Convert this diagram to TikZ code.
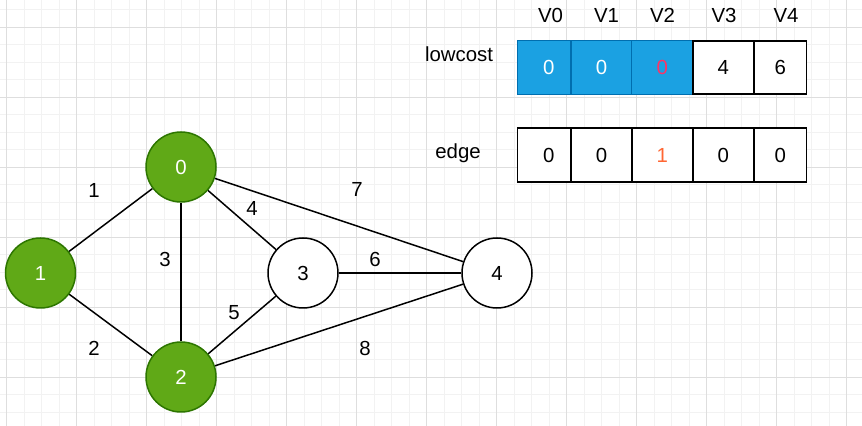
\documentclass[tikz,border=0pt]{standalone}
\usepackage{fontspec}
\setmainfont{Liberation Sans}
\usepackage{tikz}
\definecolor{GreenFill}{HTML}{60A917}
\definecolor{GreenLine}{HTML}{2D7600}
\definecolor{BlueFill}{HTML}{1BA1E2}
\definecolor{BlueLine}{HTML}{006EAF}
\definecolor{PinkText}{HTML}{FF3366}
\definecolor{OrangeText}{HTML}{FF6633}
\definecolor{MinorGrid}{HTML}{F2F2F2}
\definecolor{MajorGrid}{HTML}{DEDEDE}
\pgfdeclarelayer{gridlayer}
\pgfdeclarelayer{edgelayer}
\pgfdeclarelayer{nodelayer}
\pgfsetlayers{gridlayer,edgelayer,nodelayer,main}
\tikzstyle{none}=[inner sep=0pt]
\tikzstyle{gn}=[circle,fill=GreenFill,draw=GreenLine,text=white,line width=0.85pt,minimum size=1.4cm]
\tikzstyle{wn}=[circle,fill=white,draw=black,line width=0.85pt,minimum size=1.4cm]
\tikzstyle{bluecell}=[rectangle,fill=BlueFill,draw=BlueLine,text=white,line width=0.6pt,minimum width=1.22cm,minimum height=1.07cm]
\tikzstyle{whitecell}=[rectangle,fill=white,draw=black,line width=1.1pt,minimum width=1.22cm,minimum height=1.07cm]
\tikzstyle{simple}=[-,draw=black,line width=0.85pt]
\tikzstyle{minorgrid}=[draw=MinorGrid,line width=0.5pt]
\tikzstyle{majorgrid}=[draw=MajorGrid,line width=0.6pt]
\begin{document}
\begin{tikzpicture}[font=\fontsize{11.6}{14}\selectfont]
	\useasboundingbox (0,0) rectangle (17.24,8.52);
	\begin{pgfonlayer}{gridlayer}
		\fill[white] (0,0) rectangle (17.24,8.52);
		\begin{scope}[shift={(0.134,7.974)}]
			\draw[minorgrid,step=0.35] (-0.134,-7.974) grid (17.106,0.546);
			\draw[majorgrid,step=1.4] (-0.134,-7.974) grid (17.106,0.546);
		\end{scope}
	\end{pgfonlayer}
	\begin{pgfonlayer}{nodelayer}
		\node [style=gn] (0) at (3.62, 5.18) {0};
		\node [style=gn] (1) at (0.81, 3.06) {1};
		\node [style=gn] (2) at (3.62, 0.98) {2};
		\node [style=wn] (3) at (6.06, 3.06) {3};
		\node [style=wn] (4) at (9.94, 3.06) {4};
		\node [style=none] (5) at (1.88, 4.72) {1};
		\node [style=none] (6) at (1.88, 1.56) {2};
		\node [style=none] (7) at (3.30, 3.34) {3};
		\node [style=none] (8) at (5.04, 4.36) {4};
		\node [style=none] (9) at (4.68, 2.26) {5};
		\node [style=none] (10) at (7.50, 3.34) {6};
		\node [style=none] (11) at (7.14, 4.74) {7};
		\node [style=none] (12) at (7.30, 1.56) {8};
		\node [style=none] (13) at (11.01, 8.22) {V0};
		\node [style=none] (14) at (12.13, 8.22) {V1};
		\node [style=none] (15) at (13.25, 8.22) {V2};
		\node [style=none] (16) at (14.48, 8.22) {V3};
		\node [style=none] (17) at (15.72, 8.22) {V4};
		\node [style=none] (18) at (9.18, 7.43) {lowcost};
		\node [style=none] (19) at (9.16, 5.46) {edge};
		\node [style=bluecell, minimum width=1.25cm] (20) at (10.975, 7.17) {0};
		\node [style=bluecell] (21) at (12.03, 7.17) {0};
		\node [style=bluecell, text=PinkText] (22) at (13.245, 7.17) {0};
		\node [style=whitecell] (23) at (14.465, 7.17) {4};
		\node [style=whitecell, minimum width=1.05cm] (24) at (15.605, 7.17) {6};
		\node [style=whitecell, minimum width=1.25cm] (25) at (10.975, 5.42) {0};
		\node [style=whitecell] (26) at (12.03, 5.42) {0};
		\node [style=whitecell, text=OrangeText] (27) at (13.245, 5.42) {1};
		\node [style=whitecell] (28) at (14.465, 5.42) {0};
		\node [style=whitecell, minimum width=1.05cm] (29) at (15.605, 5.42) {0};
	\end{pgfonlayer}
	\begin{pgfonlayer}{edgelayer}
		\draw [style=simple] (1) to (0);
		\draw [style=simple] (1) to (2);
		\draw [style=simple] (0) to (2);
		\draw [style=simple] (0) to (3);
		\draw [style=simple] (0) to (4);
		\draw [style=simple] (2) to (3);
		\draw [style=simple] (2) to (4);
		\draw [style=simple] (3) to (4);
	\end{pgfonlayer}
\end{tikzpicture}
\end{document}
